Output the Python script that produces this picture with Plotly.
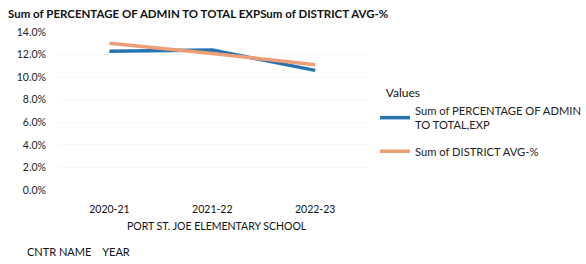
import plotly.graph_objects as go

years = ["2020-21", "2021-22", "2022-23"]
admin_pct = [0.123, 0.124, 0.106]
district_avg = [0.130, 0.121, 0.111]

FONT = "Lato, 'Open Sans', sans-serif"

W, H = 586, 264
plot_l, plot_r, plot_t, plot_b = 58, 382, 32, 190
paper_w = W - plot_l
paper_h = plot_b - plot_t


def px(xpix):
    return (xpix - plot_l) / paper_w


def py(ypix):
    return (plot_b - ypix) / paper_h


fig = go.Figure()
fig.add_trace(go.Scatter(x=years, y=admin_pct, mode="lines", legendgroup="a",
                         name="Sum of PERCENTAGE OF ADMIN<br>TO TOTAL,EXP",
                         line=dict(color="#2673AE", width=3.5)))
fig.add_trace(go.Scatter(x=years, y=district_avg, mode="lines", legendgroup="b",
                         name="Sum of DISTRICT AVG-%",
                         line=dict(color="#EE9E74", width=3.5)))

fig.update_layout(
    width=W, height=H,
    margin=dict(l=plot_l, r=0, t=plot_t, b=H - plot_b),
    paper_bgcolor="white", plot_bgcolor="white",
    font=dict(family=FONT, size=11, color="#222"),
    title=dict(text="<b>Sum of PERCENTAGE OF ADMIN TO TOTAL EXPSum of DISTRICT AVG-%</b>",
               x=8 / W, xanchor="left", y=1 - 14 / H, yanchor="middle",
               font=dict(family=FONT, size=11.5, color="#111")),
    showlegend=True,
    legend=dict(title=dict(text="&nbsp;&nbsp;&nbsp;Values", font=dict(size=12, color="#111")),
                x=px(391), xanchor="left", y=py(81), yanchor="top",
                font=dict(size=11.2, color="#222"), tracegroupgap=8,
                bgcolor="rgba(0,0,0,0)"),
    xaxis=dict(type="category", range=[-0.5, 2.5], domain=[0, px(plot_r)],
               showgrid=False, zeroline=False,
               showline=False, ticks="outside", ticklen=9, tickcolor="rgba(0,0,0,0)",
               tickfont=dict(size=10.5, color="#111")),
    yaxis=dict(range=[0, 0.14], dtick=0.02, tickformat=".1%", showgrid=True,
               gridcolor="rgba(0,0,0,0.03)", zeroline=False, showline=False,
               ticks="outside", ticklen=9, tickcolor="rgba(0,0,0,0)",
               tickfont=dict(size=10.5, color="#222")),
    annotations=[
        dict(text="PORT ST. JOE ELEMENTARY SCHOOL", x=px(225), xref="paper",
             y=py(226), yref="paper", xanchor="center", yanchor="middle",
             showarrow=False, font=dict(size=10.5, color="#111")),
        dict(text="CNTR NAME&nbsp;&nbsp;&nbsp;&nbsp;YEAR", x=px(23), xref="paper",
             y=py(251), yref="paper", xanchor="left", yanchor="middle",
             showarrow=False, font=dict(size=11, color="#111")),
    ],
)

fig.write_html("out.html", config={"displayModeBar": False},
               post_script="document.body.style.margin='0';")
